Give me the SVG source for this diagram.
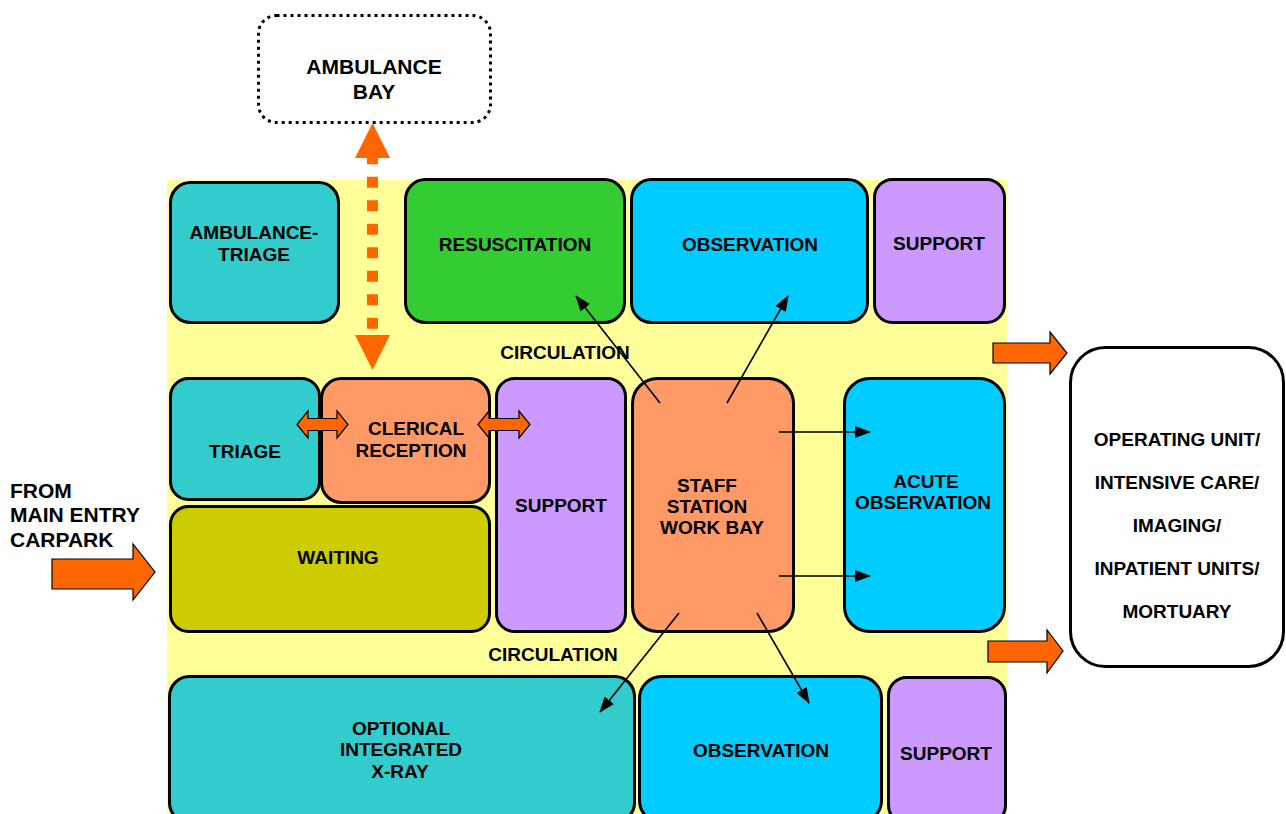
<svg xmlns="http://www.w3.org/2000/svg" width="1286" height="814" viewBox="0 0 1286 814">
  <defs>
    <style>
      .box { stroke: #000; stroke-width: 3; }
      .lbl { font-family: "Liberation Sans", Arial, sans-serif; font-weight: bold; font-size: 19px; fill: #000; text-anchor: middle; }
      .big { font-size: 21px; }
      .side { font-size: 21px; text-anchor: start; }
      .teal { fill: #33CCCC; }
      .green { fill: #33CC33; }
      .sky { fill: #00CCFF; }
      .lilac { fill: #CC99FF; }
      .salmon { fill: #FF9966; }
      .olive { fill: #CCCC00; }
      .flow { fill: #FF6600; stroke: #000; stroke-width: 1.2; stroke-linejoin: miter; }
      .link { stroke: #000; stroke-width: 1.6; fill: none; }
    </style>
    <marker id="tip" markerUnits="userSpaceOnUse" markerWidth="16" markerHeight="12" viewBox="0 0 16 12" refX="15" refY="6" orient="auto">
      <path d="M0,0 L16,6 L0,12 z" fill="#000"/>
    </marker>
  </defs>

  <!-- circulation zone -->
  <rect x="167" y="180" width="840" height="640" fill="#FFFF99"/>

  <g id="ambulance-bay">
    <rect x="258.5" y="15.5" width="232" height="107" rx="18" fill="#fff" stroke="#000" stroke-width="3" stroke-dasharray="3 4"/>
    <text class="lbl big" x="374" y="74">AMBULANCE</text>
    <text class="lbl big" x="374" y="99">BAY</text>
  </g>

  <g id="ambulance-triage">
    <rect class="box teal" x="170.5" y="182.5" width="168" height="140" rx="20"/>
    <text class="lbl" x="254" y="239">AMBULANCE-</text>
    <text class="lbl" x="254" y="261">TRIAGE</text>
  </g>

  <g id="resuscitation">
    <rect class="box green" x="405.5" y="179.5" width="219" height="143" rx="20"/>
    <text class="lbl" x="515" y="251">RESUSCITATION</text>
  </g>

  <g id="observation-top">
    <rect class="box sky" x="631.5" y="179.5" width="236" height="143" rx="20"/>
    <text class="lbl" x="750" y="251">OBSERVATION</text>
  </g>

  <g id="support-top">
    <rect class="box lilac" x="874.5" y="179.5" width="130" height="143" rx="18"/>
    <text class="lbl" x="939" y="250">SUPPORT</text>
  </g>

  <g id="triage">
    <rect class="box teal" x="170.5" y="378.5" width="149" height="121" rx="18"/>
    <text class="lbl" x="245" y="458">TRIAGE</text>
  </g>

  <g id="clerical-reception">
    <rect class="box salmon" x="321.5" y="378.5" width="168" height="124" rx="20"/>
    <text class="lbl" x="416" y="435">CLERICAL</text>
    <text class="lbl" x="411" y="457">RECEPTION</text>
  </g>

  <g id="waiting">
    <rect class="box olive" x="170.5" y="506.5" width="319" height="125" rx="18"/>
    <text class="lbl" x="338" y="564">WAITING</text>
  </g>

  <g id="support-middle">
    <rect class="box lilac" x="496.5" y="378.5" width="129" height="253" rx="18"/>
    <text class="lbl" x="561" y="512">SUPPORT</text>
  </g>

  <g id="staff-station">
    <rect class="box salmon" x="632.5" y="378.5" width="161" height="253" rx="25"/>
    <text class="lbl" x="707" y="492">STAFF</text>
    <text class="lbl" x="707" y="513">STATION</text>
    <text class="lbl" x="712" y="534">WORK BAY</text>
  </g>

  <g id="acute-observation">
    <rect class="box sky" x="844.5" y="378.5" width="160" height="253" rx="25"/>
    <text class="lbl" x="926" y="488">ACUTE</text>
    <text class="lbl" x="923" y="509">OBSERVATION</text>
  </g>

  <g id="xray">
    <rect class="box teal" x="169.5" y="676.5" width="465" height="146" rx="20"/>
    <text class="lbl" x="401" y="735">OPTIONAL</text>
    <text class="lbl" x="401" y="756">INTEGRATED</text>
    <text class="lbl" x="400" y="778">X-RAY</text>
  </g>

  <g id="observation-bottom">
    <rect class="box sky" x="639.5" y="676.5" width="242" height="146" rx="22"/>
    <text class="lbl" x="761" y="757">OBSERVATION</text>
  </g>

  <g id="support-bottom">
    <rect class="box lilac" x="888.5" y="677.5" width="117" height="146" rx="18"/>
    <text class="lbl" x="946" y="760">SUPPORT</text>
  </g>

  <g id="hospital-units">
    <rect x="1070.5" y="347.5" width="213" height="319" rx="35" fill="#fff" stroke="#000" stroke-width="3"/>
    <text class="lbl" x="1177" y="446">OPERATING UNIT/</text>
    <text class="lbl" x="1177" y="489">INTENSIVE CARE/</text>
    <text class="lbl" x="1177" y="532">IMAGING/</text>
    <text class="lbl" x="1177" y="575">INPATIENT UNITS/</text>
    <text class="lbl" x="1177" y="618">MORTUARY</text>
  </g>

  <g id="labels">
    <text class="lbl" x="565" y="359">CIRCULATION</text>
    <text class="lbl" x="553" y="661">CIRCULATION</text>
    <text class="lbl side" x="10" y="498">FROM</text>
    <text class="lbl side" x="10" y="522">MAIN ENTRY</text>
    <text class="lbl side" x="10" y="547">CARPARK</text>
  </g>

  <g id="connectors">
    <!-- ambulance route (dotted, two-way) -->
    <line x1="372.5" y1="158" x2="372.5" y2="335" stroke="#FF6600" stroke-width="11" stroke-dasharray="11 12.5" stroke-dashoffset="4.8"/>
    <path d="M372.5,123 L390,158 L355,158 Z" fill="#FF6600"/>
    <path d="M372.5,370 L390,335 L355,335 Z" fill="#FF6600"/>

    <!-- two-way links at reception -->
    <path class="flow" d="M297,424.5 L308,411 V418.5 H337 V411 L348,424.5 L337,438 V430.5 H308 V438 Z"/>
    <path class="flow" d="M478,424.5 L489,411 V418.5 H519 V411 L530,424.5 L519,438 V430.5 H489 V438 Z"/>

    <!-- entry and exit flows -->
    <path class="flow" d="M52,559 H133 V544 L155,572 L133,600 V589 H52 Z"/>
    <path class="flow" d="M993,343 H1050 V332 L1067,353 L1050,374 V363 H993 Z"/>
    <path class="flow" d="M988,641 H1047 V630 L1063,651 L1047,673 V662 H988 Z"/>

    <!-- staff station sight lines -->
    <line class="link" x1="660" y1="403" x2="576" y2="296" marker-end="url(#tip)"/>
    <line class="link" x1="727" y1="403" x2="788" y2="296" marker-end="url(#tip)"/>
    <line class="link" x1="779" y1="432" x2="870" y2="432" marker-end="url(#tip)"/>
    <line class="link" x1="779" y1="576" x2="870" y2="576" marker-end="url(#tip)"/>
    <line class="link" x1="679" y1="613" x2="600" y2="712" marker-end="url(#tip)"/>
    <line class="link" x1="757" y1="613" x2="809" y2="703" marker-end="url(#tip)"/>
  </g>
</svg>
